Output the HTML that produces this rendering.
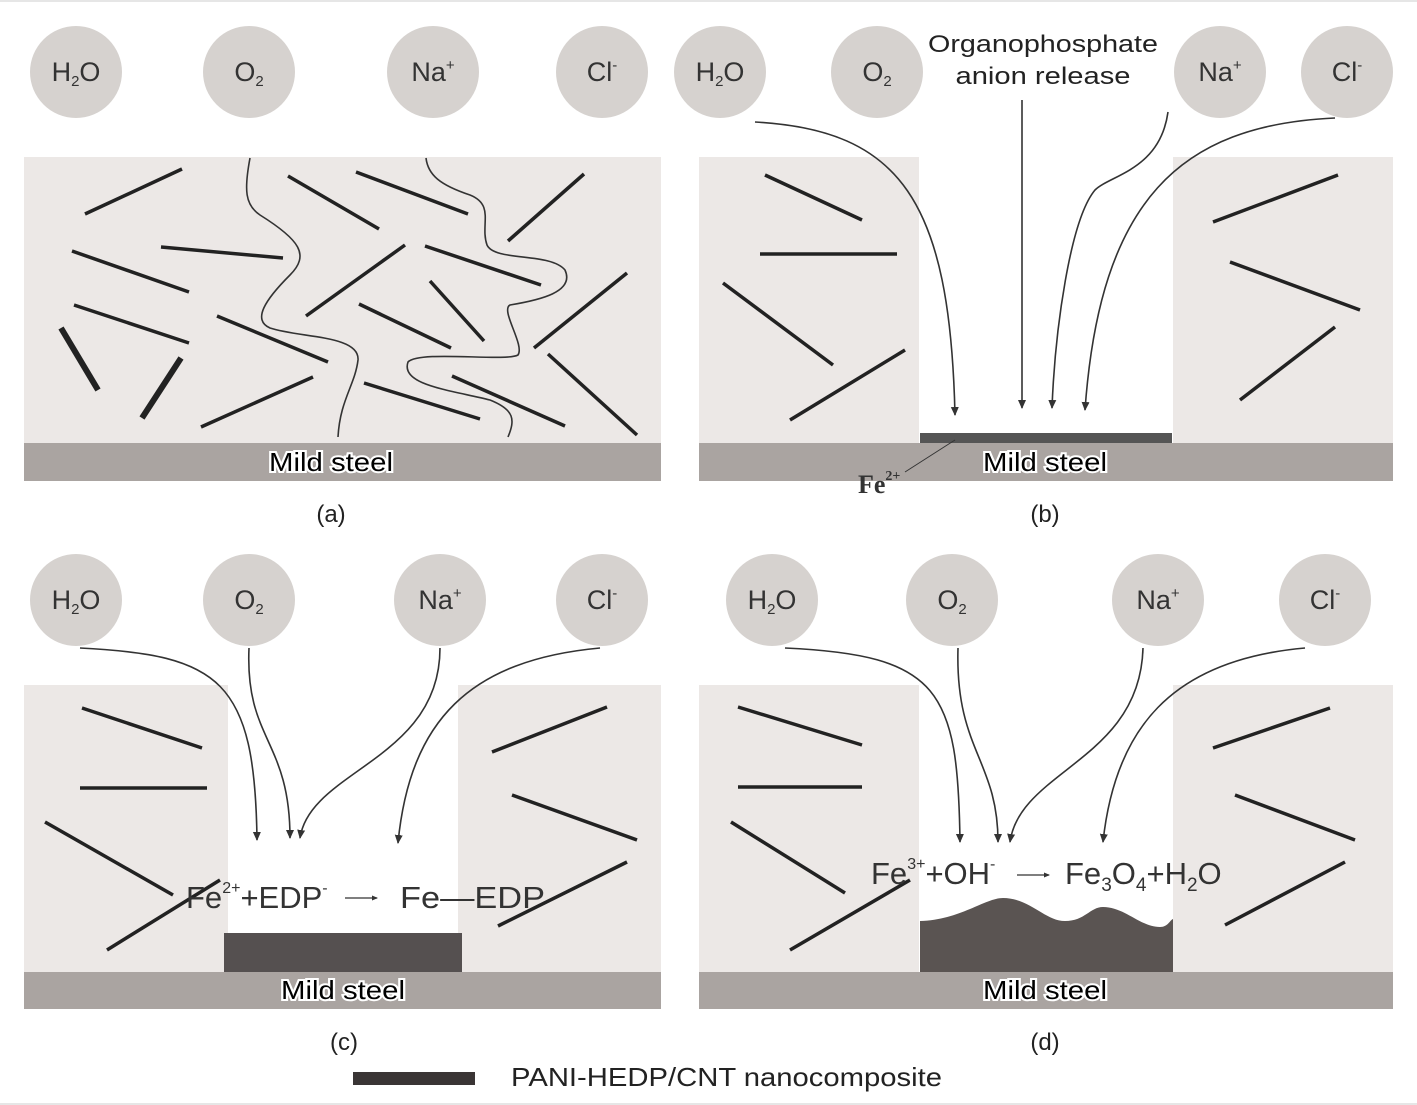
<!DOCTYPE html>
<html><head><style>
html,body{margin:0;padding:0;background:#fff;}
svg{display:block;font-family:"Liberation Sans",sans-serif;}
</style></head><body>
<svg width="1417" height="1105" viewBox="0 0 1417 1105" xmlns="http://www.w3.org/2000/svg">
<defs>
<marker id="ar" markerWidth="10" markerHeight="10" refX="8" refY="5" orient="auto" markerUnits="userSpaceOnUse">
<path d="M0,1 L9,5 L0,9 Z" fill="#333"/>
</marker>
<marker id="sa" markerWidth="6" markerHeight="6" refX="5" refY="3" orient="auto" markerUnits="userSpaceOnUse">
<path d="M0,0.5 L6,3 L0,5.5 Z" fill="#333"/>
</marker>
</defs>
<line x1="0" y1="1" x2="1417" y2="1" stroke="#ccc"/>
<line x1="0" y1="1104" x2="1417" y2="1104" stroke="#ccc"/>
<g fill="#ece8e6">
<rect x="24" y="157" width="637" height="286"/>
<rect x="699" y="157" width="220" height="286"/>
<rect x="1173" y="157" width="220" height="286"/>
<rect x="24" y="685" width="204" height="287"/>
<rect x="458" y="685" width="203" height="287"/>
<rect x="699" y="685" width="220" height="287"/>
<rect x="1173" y="685" width="220" height="287"/>
</g>
<g fill="#aaa4a1">
<rect x="24" y="443" width="637" height="38"/>
<rect x="699" y="443" width="694" height="38"/>
<rect x="24" y="972" width="637" height="37"/>
<rect x="699" y="972" width="694" height="37"/>
</g>
<rect x="920" y="433" width="252" height="10" fill="#555"/>
<rect x="224" y="933" width="238" height="39" fill="#555050"/>
<path d="M920,921 C960,920 985,898 1003,898 C1030,898 1045,921 1065,921 C1085,921 1090,907 1103,907 C1125,907 1140,927 1160,927 C1168,927 1170,920 1173,919 L1173,972 L920,972 Z" fill="#5a5452"/>
<g fill="#d6d2cf">
<circle cx="76" cy="72" r="46"/><circle cx="249" cy="72" r="46"/><circle cx="433" cy="72" r="46"/><circle cx="602" cy="72" r="46"/>
<circle cx="720" cy="72" r="46"/><circle cx="877" cy="72" r="46"/><circle cx="1220" cy="72" r="46"/><circle cx="1347" cy="72" r="46"/>
<circle cx="76" cy="600" r="46"/><circle cx="249" cy="600" r="46"/><circle cx="440" cy="600" r="46"/><circle cx="602" cy="600" r="46"/>
<circle cx="772" cy="600" r="46"/><circle cx="952" cy="600" r="46"/><circle cx="1158" cy="600" r="46"/><circle cx="1325" cy="600" r="46"/>
</g>
<g font-size="27" fill="#333" text-anchor="middle">
<text x="76" y="81">H<tspan font-size="15" dy="5">2</tspan><tspan dy="-5">O</tspan></text>
<text x="249" y="81">O<tspan font-size="15" dy="5">2</tspan></text>
<text x="433" y="81">Na<tspan font-size="15" dy="-11">+</tspan></text>
<text x="602" y="81">Cl<tspan font-size="15" dy="-11">-</tspan></text>
<text x="720" y="81">H<tspan font-size="15" dy="5">2</tspan><tspan dy="-5">O</tspan></text>
<text x="877" y="81">O<tspan font-size="15" dy="5">2</tspan></text>
<text x="1220" y="81">Na<tspan font-size="15" dy="-11">+</tspan></text>
<text x="1347" y="81">Cl<tspan font-size="15" dy="-11">-</tspan></text>
<text x="76" y="609">H<tspan font-size="15" dy="5">2</tspan><tspan dy="-5">O</tspan></text>
<text x="249" y="609">O<tspan font-size="15" dy="5">2</tspan></text>
<text x="440" y="609">Na<tspan font-size="15" dy="-11">+</tspan></text>
<text x="602" y="609">Cl<tspan font-size="15" dy="-11">-</tspan></text>
<text x="772" y="609">H<tspan font-size="15" dy="5">2</tspan><tspan dy="-5">O</tspan></text>
<text x="952" y="609">O<tspan font-size="15" dy="5">2</tspan></text>
<text x="1158" y="609">Na<tspan font-size="15" dy="-11">+</tspan></text>
<text x="1325" y="609">Cl<tspan font-size="15" dy="-11">-</tspan></text>
</g>
<g stroke="#222" stroke-width="3.5" stroke-linecap="butt">
<line x1="85" y1="214" x2="182" y2="169"/><line x1="288" y1="176" x2="379" y2="229"/>
<line x1="356" y1="172" x2="468" y2="214"/><line x1="584" y1="174" x2="508" y2="241"/>
<line x1="72" y1="251" x2="189" y2="292"/><line x1="161" y1="247" x2="283" y2="258"/>
<line x1="405" y1="245" x2="306" y2="316"/><line x1="425" y1="246" x2="541" y2="285"/>
<line x1="430" y1="281" x2="484" y2="341"/><line x1="74" y1="305" x2="189" y2="343"/>
<line x1="217" y1="316" x2="328" y2="362"/><line x1="359" y1="304" x2="451" y2="348"/>
<line x1="627" y1="273" x2="534" y2="348"/>
<line x1="61" y1="328" x2="98" y2="390" stroke-width="6"/><line x1="181" y1="358" x2="142" y2="418" stroke-width="6"/>
<line x1="313" y1="377" x2="201" y2="427"/><line x1="364" y1="383" x2="480" y2="419"/>
<line x1="452" y1="376" x2="565" y2="426"/><line x1="548" y1="354" x2="637" y2="435"/>
<line x1="765" y1="175" x2="862" y2="220"/><line x1="760" y1="254" x2="897" y2="254"/>
<line x1="723" y1="283" x2="833" y2="365"/><line x1="790" y1="420" x2="905" y2="350"/>
<line x1="1213" y1="222" x2="1338" y2="175"/><line x1="1230" y1="262" x2="1360" y2="310"/>
<line x1="1240" y1="400" x2="1335" y2="327"/>
<line x1="82" y1="708" x2="202" y2="748"/><line x1="80" y1="788" x2="207" y2="788"/>
<line x1="45" y1="822" x2="173" y2="895"/><line x1="107" y1="950" x2="220" y2="880"/>
<line x1="492" y1="752" x2="607" y2="707"/><line x1="512" y1="795" x2="637" y2="840"/>
<line x1="498" y1="926" x2="627" y2="862"/>
<line x1="738" y1="707" x2="862" y2="745"/><line x1="738" y1="787" x2="862" y2="787"/>
<line x1="731" y1="822" x2="845" y2="893"/><line x1="790" y1="950" x2="910" y2="880"/>
<line x1="1213" y1="748" x2="1330" y2="708"/><line x1="1235" y1="795" x2="1355" y2="840"/>
<line x1="1225" y1="925" x2="1345" y2="862"/>
</g>
<g fill="none" stroke="#333" stroke-width="1.6">
<path d="M250,158 C244,190 245,205 260,215 C300,240 310,255 290,275 C265,300 252,320 270,328 C300,338 360,335 358,360 C355,385 340,400 338,437"/>
<path d="M426,158 C428,175 440,185 470,195 C495,205 480,225 487,245 C495,262 550,252 565,270 C575,292 540,300 510,305 C500,310 525,345 518,355 C505,362 420,350 408,362 C400,385 450,390 490,400 C515,410 515,420 508,437"/>
</g>
<g fill="none" stroke="#333" stroke-width="1.6" marker-end="url(#ar)">
<path d="M755,122 C900,130 950,200 955,415"/>
<path d="M1022,100 L1022,408"/>
<path d="M1168,112 C1160,170 1110,175 1095,190 C1070,220 1055,330 1052,408"/>
<path d="M1335,118 C1180,125 1100,200 1085,410"/>
<path d="M80,648 C220,655 255,680 257,840"/>
<path d="M249,648 C245,740 290,740 290,838"/>
<path d="M440,648 C440,760 310,770 300,838"/>
<path d="M600,648 C470,660 410,720 398,843"/>
<path d="M785,648 C940,655 958,690 960,842"/>
<path d="M958,648 C955,750 998,760 998,842"/>
<path d="M1143,648 C1140,760 1020,770 1010,842"/>
<path d="M1305,648 C1170,660 1115,730 1103,842"/>
</g>
<line x1="905" y1="472" x2="955" y2="440" stroke="#333" stroke-width="1"/>
<text x="858" y="493" font-family="Liberation Serif,serif" font-weight="bold" font-size="26" fill="#333">Fe<tspan font-size="14" dy="-13">2+</tspan></text>
<g font-size="24" fill="#222" text-anchor="middle">
<text x="1043" y="52" textLength="230" lengthAdjust="spacingAndGlyphs">Organophosphate</text>
<text x="1043" y="84" textLength="175" lengthAdjust="spacingAndGlyphs">anion release</text>
<g font-size="26" fill="#000" stroke="#fff" stroke-width="4" paint-order="stroke">
<text x="331" y="471" textLength="124" lengthAdjust="spacingAndGlyphs">Mild steel</text>
<text x="1045" y="471" textLength="124" lengthAdjust="spacingAndGlyphs">Mild steel</text>
<text x="343" y="999" textLength="124" lengthAdjust="spacingAndGlyphs">Mild steel</text>
<text x="1045" y="999" textLength="124" lengthAdjust="spacingAndGlyphs">Mild steel</text>
</g>
<text x="331" y="522">(a)</text><text x="1045" y="522">(b)</text>
<text x="344" y="1050">(c)</text><text x="1045" y="1050">(d)</text>
</g>
<g font-size="31" fill="#333">
<text x="186" y="908">Fe<tspan font-size="16" dy="-15">2+</tspan><tspan dy="15">+EDP</tspan><tspan font-size="16" dy="-15">-</tspan></text>
<line x1="345" y1="898" x2="377" y2="898" stroke="#333" stroke-width="1.2" marker-end="url(#sa)"/>
<text x="400" y="908" textLength="145" lengthAdjust="spacingAndGlyphs">Fe—EDP</text>
<text x="871" y="884">Fe<tspan font-size="16" dy="-15">3+</tspan><tspan dy="15">+OH</tspan><tspan font-size="16" dy="-15">-</tspan></text>
<line x1="1017" y1="875" x2="1049" y2="875" stroke="#333" stroke-width="1.2" marker-end="url(#sa)"/>
<text x="1065" y="884">Fe<tspan font-size="19" dy="7">3</tspan><tspan dy="-7">O</tspan><tspan font-size="19" dy="7">4</tspan><tspan dy="-7">+H</tspan><tspan font-size="19" dy="7">2</tspan><tspan dy="-7">O</tspan></text>
</g>
<rect x="353" y="1072" width="122" height="13" fill="#3a3535"/>
<text x="511" y="1086" font-size="26" fill="#222" textLength="431" lengthAdjust="spacingAndGlyphs">PANI-HEDP/CNT nanocomposite</text>
</svg>
</body></html>
